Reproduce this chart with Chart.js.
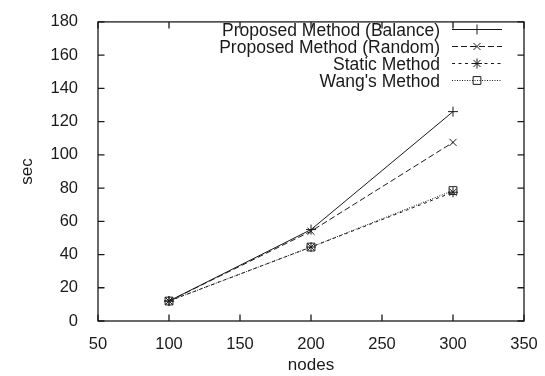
<!DOCTYPE html>
<html>
<head>
<meta charset="utf-8">
<script src="https://cdn.jsdelivr.net/npm/chart.js@4.4.0/dist/chart.umd.min.js"></script>
<style>
  html, body { margin: 0; padding: 0; background: #fff; }
  #wrap { width: 545px; height: 376px; }
</style>
</head>
<body>
<div id="wrap"><canvas id="chart" width="545" height="376"></canvas></div>
<script>
// data
const nodes = [100, 200, 300];
const balance = [12, 55, 126];
const random = [12, 54, 107.5];
const staticMethod = [12, 44.5, 77.5];
const wang = [12, 44.5, 78.5];

const seriesLabels = ['Proposed Method (Balance)', 'Proposed Method (Random)', 'Static Method', "Wang's Method"];
const xTicks = [50, 100, 150, 200, 250, 300, 350];
const yTicks = [0, 20, 40, 60, 80, 100, 120, 140, 160, 180];

const FONT = '"Liberation Sans", Arial, Helvetica, sans-serif';
const INK = '#1a1a1a';

// gnuplot-like frame with inward ticks on all four sides
const framePlugin = {
    id: 'frame',
    afterDraw(chart) {
        const ctx = chart.ctx;
        const a = chart.chartArea;
        const xs = chart.scales.x, ys = chart.scales.y;
        const t = 6.5;
        ctx.save();
        ctx.strokeStyle = INK;
        ctx.lineWidth = 1.3;
        ctx.setLineDash([]);
        ctx.strokeRect(a.left, a.top, a.right - a.left, a.bottom - a.top);
        ctx.beginPath();
        xTicks.forEach(v => {
            const px = xs.getPixelForValue(v);
            ctx.moveTo(px, a.bottom); ctx.lineTo(px, a.bottom - t);
            ctx.moveTo(px, a.top); ctx.lineTo(px, a.top + t);
        });
        yTicks.forEach(v => {
            const py = ys.getPixelForValue(v);
            ctx.moveTo(a.left, py); ctx.lineTo(a.left + t, py);
            ctx.moveTo(a.right, py); ctx.lineTo(a.right - t, py);
        });
        ctx.stroke();
        ctx.restore();
    }
};

// legend in the top right: right aligned text, then a line sample with its marker
const legendPlugin = {
    id: 'gpLegend',
    afterDraw(chart) {
        const ctx = chart.ctx;
        const textRight = 440, x1 = 452, x2 = 502, top = 29.5, rowH = 17;
        ctx.save();
        ctx.font = '17.5px ' + FONT;
        ctx.textAlign = 'right';
        ctx.textBaseline = 'alphabetic';
        chart.data.datasets.forEach((ds, i) => {
            const y = top + i * rowH;
            ctx.fillStyle = INK;
            ctx.fillText(ds.label, textRight, y + 6.5);
            ctx.strokeStyle = INK;
            ctx.lineWidth = 1;
            ctx.setLineDash(ds.borderDash || []);
            ctx.beginPath();
            ctx.moveTo(x1, y); ctx.lineTo(x2, y);
            ctx.stroke();
            ctx.setLineDash([]);
            ctx.fillStyle = 'rgba(0,0,0,0)';
            Chart.helpers.drawPoint(ctx, {
                pointStyle: ds.pointStyle,
                radius: ds.pointRadius,
                borderWidth: 1,
                rotation: 0
            }, (x1 + x2) / 2, y);
        });
        ctx.restore();
    }
};

function makeSet(label, data, dash, style, r) {
    return {
        label: label,
        data: nodes.map((n, i) => ({ x: n, y: data[i] })),
        borderColor: INK,
        backgroundColor: 'rgba(0,0,0,0)',
        borderWidth: 1,
        borderDash: dash,
        pointStyle: style,
        pointRadius: r,
        pointBorderColor: INK,
        pointBorderWidth: 1,
        tension: 0
    };
}

new Chart(document.getElementById('chart'), {
    type: 'line',
    data: {
        datasets: [
            makeSet(seriesLabels[0], balance, [], 'cross', 5),
            makeSet(seriesLabels[1], random, [6, 3], 'crossRot', 5),
            makeSet(seriesLabels[2], staticMethod, [3, 3.5], 'star', 5),
            makeSet(seriesLabels[3], wang, [1, 1.5], 'rect', 5.5)
        ]
    },
    options: {
        responsive: false,
        animation: false,
        layout: { padding: { left: 0, right: 21, top: 12.5, bottom: 0 } },
        plugins: {
            legend: { display: false },
            tooltip: { enabled: false }
        },
        scales: {
            x: {
                type: 'linear',
                min: 50, max: 350,
                afterBuildTicks: s => { s.ticks = xTicks.map(v => ({ value: v })); },
                afterFit: s => { s.height = 55; },
                grid: { display: false },
                border: { display: false },
                ticks: { color: INK, font: { family: FONT, size: 16.5 }, padding: 6 },
                title: { display: true, text: 'nodes', color: INK, font: { family: FONT, size: 17 }, padding: { top: 0, bottom: 0 } }
            },
            y: {
                min: 0, max: 180,
                afterBuildTicks: s => { s.ticks = yTicks.map(v => ({ value: v })); },
                afterFit: s => { s.width = 98; },
                grid: { display: false },
                border: { display: false },
                ticks: { color: INK, font: { family: FONT, size: 16.5 }, padding: 12 },
                title: { display: true, text: 'sec', color: INK, font: { family: FONT, size: 17 }, padding: { top: 17, bottom: 0 } }
            }
        }
    },
    plugins: [framePlugin, legendPlugin]
});
</script>
</body>
</html>
